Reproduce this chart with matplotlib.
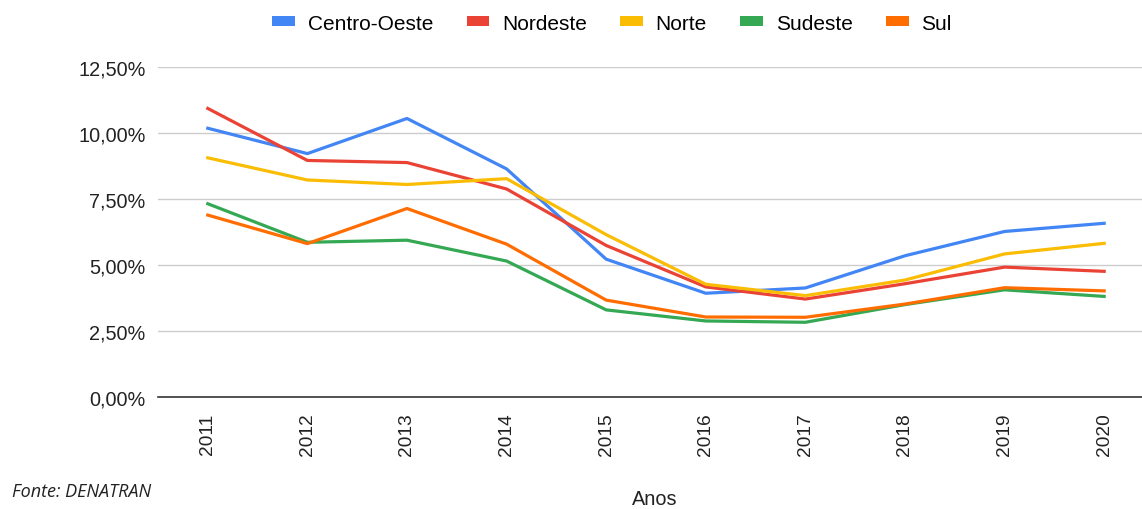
import matplotlib
matplotlib.use("Agg")
import matplotlib.pyplot as plt
from matplotlib.ticker import FuncFormatter, FixedLocator
from matplotlib.patches import Patch

years = ["2011", "2012", "2013", "2014", "2015", "2016", "2017", "2018", "2019", "2020"]
centro_oeste = [10.18, 9.22, 10.55, 8.64, 5.22, 3.93, 4.13, 5.35, 6.27, 6.58]
nordeste = [10.93, 8.96, 8.88, 7.88, 5.74, 4.17, 3.71, 4.29, 4.92, 4.76]
norte = [9.06, 8.22, 8.05, 8.27, 6.15, 4.27, 3.84, 4.43, 5.42, 5.82]
sudeste = [7.32, 5.86, 5.94, 5.15, 3.30, 2.88, 2.83, 3.50, 4.06, 3.81]
sul = [6.89, 5.81, 7.14, 5.79, 3.67, 3.03, 3.02, 3.52, 4.14, 4.02]

series = [
    ("Centro-Oeste", centro_oeste, "#4285F4"),
    ("Nordeste", nordeste, "#EA4335"),
    ("Norte", norte, "#FBBC04"),
    ("Sudeste", sudeste, "#34A853"),
    ("Sul", sul, "#FF6D01"),
]

plt.rcParams['font.family'] = ['Liberation Sans', 'DejaVu Sans']

fig = plt.figure(figsize=(11.42, 5.10), dpi=100)
ax = fig.add_axes([158/1142, 1-398/510, 1-158/1142, (398-68)/510])

x = list(range(len(years)))
for name, vals, col in series:
    ax.plot(x, vals, color=col, lw=2.3, label=name, solid_joinstyle='round', clip_on=False)

ax.set_ylim(0, 12.5)
ax.set_xlim(-0.5, 9.38)
ax.yaxis.set_major_locator(FixedLocator([0, 2.5, 5, 7.5, 10, 12.5]))
ax.yaxis.set_major_formatter(FuncFormatter(lambda v, p: f"{v:.2f}%".replace(".", ",")))
ax.set_xticks(x)
ax.set_xticklabels(years, rotation=90, fontsize=13.8, color="#222222")
ax.tick_params(axis='y', labelsize=14.3, colors="#222222", length=0, pad=9)
ax.tick_params(axis='x', length=0, pad=11)
ax.grid(axis='y', color="#cccccc", lw=1)
ax.set_axisbelow(True)
for s in ["top", "right", "left"]:
    ax.spines[s].set_visible(False)
ax.spines["bottom"].set_color("#333333")
ax.spines["bottom"].set_linewidth(1.2)
ax.spines["bottom"].set_zorder(3)

leg_handles = [Patch(facecolor=c, edgecolor='none') for _, _, c in series]
fig.legend(leg_handles, [n for n, _, _ in series], loc='center', bbox_to_anchor=(612/1142, 1-24/510),
           ncol=5, frameon=False, fontsize=15, handlelength=1.1, handleheight=0.4,
           handletextpad=0.6, columnspacing=1.6)

fig.text(655/1142, 1-500/510, "Anos", ha='center', va='center', fontsize=14.3, color="#222222")
fig.text(12/1142, 1-492/510, "Fonte: DENATRAN", ha='left', va='center', fontsize=13,
         style='italic', family=['Open Sans', 'DejaVu Sans'], color="#222222")

fig.savefig("out.png", dpi=100, facecolor="white")
